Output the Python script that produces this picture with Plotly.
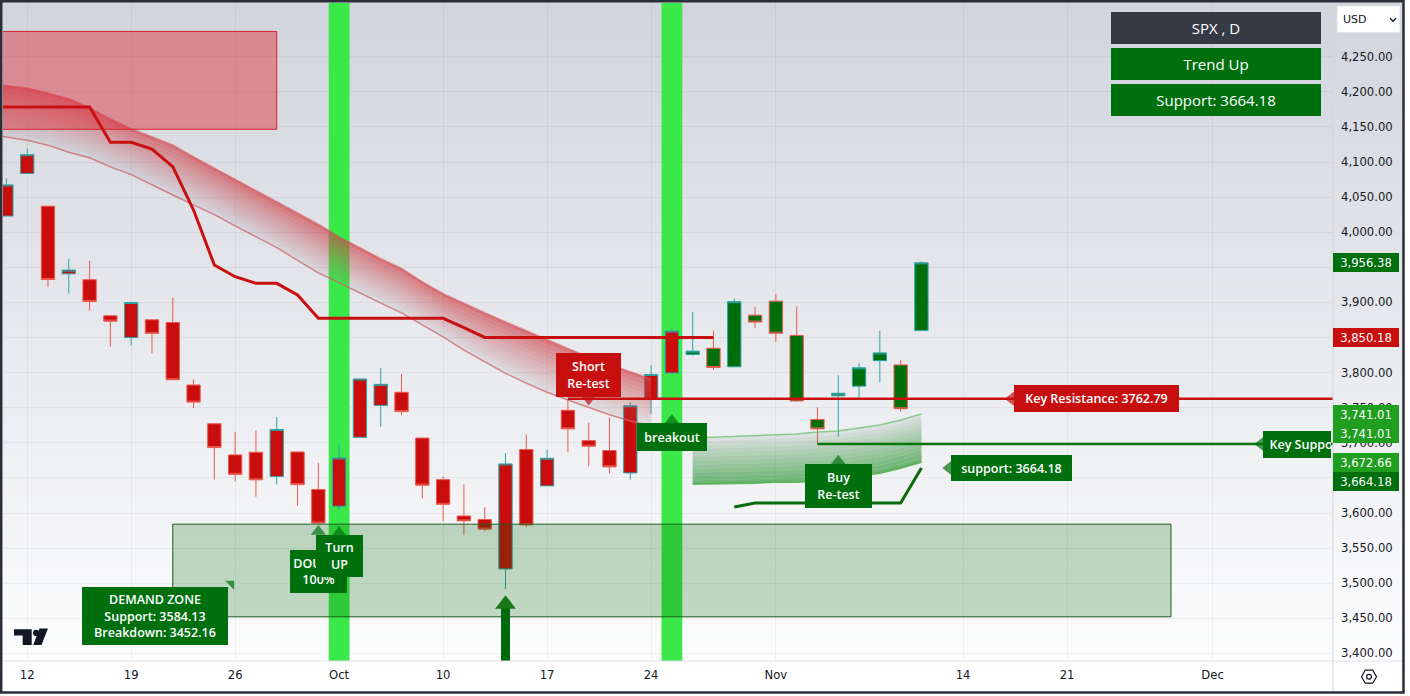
import plotly.graph_objects as go

# ---------------- chart data (SPX daily, bar index 0 = 12 Sep) ----------------
bars = list(range(-1, 44))
opens = [4022.94, 4083.67, 4037.12, 3940.73, 3932.41, 3880.95, 3849.91, 3875.23, 3871.40, 3782.36,
         3727.14, 3682.72, 3686.44, 3651.94, 3687.01, 3633.48, 3609.78, 3707.83, 3753.25, 3771.97,
         3706.74, 3647.51, 3595.86, 3590.83, 3520.37, 3690.41, 3638.65, 3746.26, 3703.11, 3689.05,
         3657.10, 3762.01, 3799.44, 3825.97, 3834.69, 3808.26, 3881.85, 3901.79, 3852.90, 3733.25,
         3766.98, 3780.71, 3817.02, 3810.94, 3859.89]
highs = [4076.81, 4119.28, 4037.12, 3961.94, 3959.14, 3880.95, 3900.45, 3876.01, 3907.07, 3790.28,
         3727.14, 3715.67, 3717.53, 3736.74, 3687.01, 3671.44, 3698.35, 3791.92, 3806.91, 3797.93,
         3706.74, 3652.17, 3640.66, 3608.34, 3685.41, 3712.00, 3689.73, 3762.79, 3728.58, 3736.00,
         3757.89, 3810.74, 3862.85, 3886.15, 3859.95, 3905.42, 3893.73, 3911.79, 3894.44, 3750.59,
         3796.34, 3813.95, 3859.40, 3818.20, 3958.33]
lows = [4022.94, 4083.67, 3921.73, 3912.41, 3888.28, 3837.08, 3838.50, 3827.54, 3789.49, 3749.45,
        3647.47, 3644.76, 3623.29, 3640.61, 3610.40, 3584.13, 3604.93, 3707.83, 3722.66, 3739.22,
        3620.73, 3588.10, 3568.45, 3573.86, 3491.58, 3579.68, 3638.65, 3686.53, 3666.51, 3656.44,
        3647.42, 3741.65, 3799.44, 3824.07, 3803.79, 3808.26, 3863.18, 3843.80, 3758.68, 3698.15,
        3708.84, 3764.70, 3786.28, 3744.22, 3859.89]
closes = [4067.36, 4110.41, 3932.69, 3946.01, 3901.35, 3873.33, 3899.89, 3855.93, 3789.93, 3757.99,
          3693.23, 3655.04, 3647.29, 3719.04, 3640.47, 3585.62, 3678.43, 3790.93, 3783.28, 3744.52,
          3639.66, 3612.39, 3588.84, 3577.03, 3669.91, 3583.07, 3677.95, 3719.98, 3695.16, 3665.78,
          3752.75, 3797.34, 3859.11, 3830.60, 3807.30, 3901.06, 3871.98, 3856.10, 3759.69, 3719.89,
          3770.55, 3806.80, 3828.11, 3748.57, 3956.38]
trend_flip_bar = 32

x_tick_bars = [0, 5, 10, 15, 20, 25, 30, 36, 45, 50, 57]
x_tick_labels = ["12", "19", "26", "Oct", "10", "17", "24", "Nov", "14", "21", "Dec"]
y_tick_values = list(range(3400, 4251, 50))

signal_bars = [15, 31]
arrow_bars = [23]

red_band_bars = list(range(-2, 31))
red_band_upper = [4212, 4208, 4205, 4198, 4190, 4177, 4161, 4147, 4135, 4124, 4107, 4091, 4074, 4058, 4042,
                  4027, 4011, 3993, 3977, 3962, 3948, 3929, 3912, 3898, 3885, 3872, 3859, 3846, 3834,
                  3822, 3811, 3801, 3791]
red_band_lower = [4140, 4136, 4131, 4124, 4114, 4106, 4093, 4082, 4067, 4053, 4039, 4025, 4009, 3993, 3978,
                  3960, 3942, 3928, 3913, 3899, 3885, 3868, 3851, 3832, 3815, 3799, 3785, 3772, 3761,
                  3750, 3740, 3731, 3724]

green_band_bars = list(range(32, 44))
green_band_upper = [3707.0, 3708.0, 3708.5, 3709.6, 3711.0, 3712.4, 3715.3, 3716.7, 3721.0, 3725.3, 3732.4, 3741.01]
green_band_lower = [3641.3, 3641.5, 3642.7, 3642.9, 3644.1, 3644.3, 3645.6, 3648.4, 3652.7, 3657.0, 3664.1, 3672.66]

step_bars = list(range(-2, 34))
step_values = [4178.3, 4178.3, 4178.3, 4178.3, 4178.3, 4178.3, 4128.1, 4128.1, 4118.5, 4093.3, 4031.6,
               3953.2, 3936.6, 3927.2, 3927.2, 3910.5, 3877.4, 3877.4, 3877.4, 3877.4, 3877.4, 3877.4,
               3877.4, 3864.2, 3850.18, 3850.18, 3850.18, 3850.18, 3850.18, 3850.18, 3850.18, 3850.18,
               3850.18, 3850.18, 3850.18, 3850.18]

support_bars = list(range(34, 44))
support_values = [3608.6, 3614.3, 3614.3, 3614.3, 3614.3, 3614.3, 3614.3, 3614.3, 3614.3, 3664.18]

key_resistance_price = 3762.79
key_resistance_from = 26
key_support_price = 3698.15
key_support_from = 38

demand_zone_bars = [7, 55]
demand_zone_prices = [3452.16, 3584.13]
supply_zone_bars = [-2, 12]
supply_zone_prices = [4146.6, 4286.0]

label_texts = ["Short<br>Re-test", "breakout", "Buy<br>Re-test", "support: 3664.18",
               "Key Resistance: 3762.79", "&nbsp;&nbsp;Key Support: 3698.15",
               "DEMAND ZONE<br>Support: 3584.13<br>Breakdown: 3452.16", "DOUBLE<br>100%", "Turn<br>UP"]
label_bars = [27, 31, 39, 44, 47, 59, 10, 14, 15]
label_prices = [3753, 3741, 3683, 3664.18, 3762.79, 3698.15, 3505, 3583, 3581]
label_kinds = ["down", "up", "up", "left", "left", "left", "lowerleft", "up", "up"]
label_tones = ["red", "green", "green", "green", "red", "green", "green", "green", "green"]

axis_label_values = [3956.38, 3850.18, 3741.01, 3741.01, 3672.66, 3664.18]
axis_label_tones = ["dark", "red", "bright", "bright", "bright", "dark"]

table_rows = ["SPX , D", "Trend Up", "Support: 3664.18"]
table_tones = ["slate", "green", "green"]

# ---------------- geometry / style ----------------
W, H = 1410, 696
L, R, T, B = 3, 77, 3, 35
X0, X1 = -1.163, 62.79
Y0, Y1 = 3389.2, 4326.5
PW, PH = W - L - R, H - T - B
ppx = PW / (X1 - X0)
ppp = PH / (Y1 - Y0)

RED = "#c80f0f"
GREEN = "#00700e"
TONE = {"red": RED, "green": GREEN, "dark": "#00700e", "bright": "#1f9e1f", "slate": "#363a45"}
RED_BODY = "#c90c0c"
GREEN_BODY = "#006f0b"
INC_LINE = "#2aa5a8"
DEC_LINE = "#ea5a4e"
GRID = "rgba(42,46,57,0.06)"
TXT = "#131722"


def pxx(px):
    return (px - L) / PW


def pxy(py):
    return (H - B - py) / PH


def ppath(points, close=True):
    s = "M " + " L ".join(f"{pxx(a):.5f},{pxy(b):.5f}" for a, b in points)
    return s + (" Z" if close else "")


fig = go.Figure()

# signal columns
fig.add_trace(go.Bar(x=signal_bars, y=[Y1 - Y0 for _ in signal_bars], base=[Y0 for _ in signal_bars],
                     width=1.0, marker=dict(color="#3be84a", line=dict(width=0)), hoverinfo="skip"))


def gradient_band(xs, top, bot, rgb, a_top, a_bot, n=10, gamma=1.0):
    fig.add_trace(go.Scatter(x=xs, y=top, mode="lines", line=dict(width=0), hoverinfo="skip"))
    fig.add_trace(go.Scatter(x=xs, y=bot, mode="lines", line=dict(width=0), fill="tonexty",
                             fillcolor="rgba(140,140,150,0.12)", hoverinfo="skip"))
    for k in range(n):
        f0, f1 = k / n, (k + 1) / n
        ya = [t + (b - t) * f0 for t, b in zip(top, bot)]
        yb = [t + (b - t) * f1 for t, b in zip(top, bot)]
        fm = ((k + 0.5) / n) ** gamma
        a = a_top + (a_bot - a_top) * fm
        fig.add_trace(go.Scatter(x=xs, y=ya, mode="lines", line=dict(width=0), hoverinfo="skip"))
        fig.add_trace(go.Scatter(x=xs, y=yb, mode="lines", line=dict(width=0), fill="tonexty",
                                 fillcolor=f"rgba({rgb},{a:.3f})", hoverinfo="skip"))


gradient_band(red_band_bars, red_band_upper, red_band_lower, "214,62,68", 0.68, 0.0, n=12, gamma=0.8)
fig.add_trace(go.Scatter(x=red_band_bars, y=red_band_upper, mode="lines",
                         line=dict(color="rgba(214,80,86,0.55)", width=2), hoverinfo="skip"))
fig.add_trace(go.Scatter(x=red_band_bars, y=red_band_lower, mode="lines",
                         line=dict(color="rgba(205,100,104,0.75)", width=1.5), hoverinfo="skip"))

gradient_band(green_band_bars, green_band_upper, green_band_lower, "60,160,68", 0.0, 0.72, n=12, gamma=0.9)
fig.add_trace(go.Scatter(x=green_band_bars, y=green_band_upper, mode="lines",
                         line=dict(color="rgba(120,200,120,0.85)", width=1.5), hoverinfo="skip"))
fig.add_trace(go.Scatter(x=green_band_bars, y=green_band_lower, mode="lines",
                         line=dict(color="rgba(80,175,80,0.85)", width=2), hoverinfo="skip"))


def zone(bx, pr, fill, line):
    fig.add_trace(go.Scatter(x=[bx[0], bx[1], bx[1], bx[0], bx[0]], y=[pr[0], pr[0], pr[1], pr[1], pr[0]],
                             mode="lines", fill="toself", fillcolor=fill, line=dict(color=line, width=1),
                             hoverinfo="skip"))


zone(supply_zone_bars, supply_zone_prices, "rgba(222,52,64,0.48)", "#d8202a")
zone(demand_zone_bars, demand_zone_prices, "rgba(0,100,0,0.23)", "#1b5e20")

# lines
fig.add_trace(go.Scatter(x=step_bars, y=step_values, mode="lines", line=dict(color="#c81010", width=3),
                         hoverinfo="skip"))
fig.add_trace(go.Scatter(x=support_bars, y=support_values, mode="lines", line=dict(color="#0b6b0b", width=3),
                         hoverinfo="skip"))
fig.add_trace(go.Scatter(x=[key_resistance_from, X1 + 1], y=[key_resistance_price, key_resistance_price],
                         mode="lines", line=dict(color="#c81010", width=2.5), hoverinfo="skip"))
fig.add_trace(go.Scatter(x=[key_support_from, X1 + 1], y=[key_support_price, key_support_price],
                         mode="lines", line=dict(color="#0d760d", width=2.5), hoverinfo="skip"))

# candles
bear = [k for k, b in enumerate(bars) if b < trend_flip_bar]
bull = [k for k, b in enumerate(bars) if b >= trend_flip_bar]


def sub(a, idx):
    return [a[k] for k in idx]


for idx, body in ((bear, RED_BODY), (bull, GREEN_BODY)):
    fig.add_trace(go.Candlestick(
        x=sub(bars, idx), open=sub(opens, idx), high=sub(highs, idx), low=sub(lows, idx), close=sub(closes, idx),
        increasing=dict(line=dict(color=INC_LINE, width=1), fillcolor=body),
        decreasing=dict(line=dict(color=DEC_LINE, width=1), fillcolor=body),
        whiskerwidth=0, hoverinfo="skip", showlegend=False))

# buy arrow under the bar
for b in arrow_bars:
    low = lows[bars.index(b)]
    tip = low - 6 / ppp
    head_c = tip - 9 / ppp
    fig.add_trace(go.Scatter(x=[b, b], y=[Y0 - 5, head_c], mode="lines", line=dict(color="#006a0a", width=9),
                             hoverinfo="skip"))
    fig.add_trace(go.Scatter(x=[b], y=[head_c], mode="markers",
                             marker=dict(symbol="triangle-up", size=18, color="#1a781a"), hoverinfo="skip"))

# label tails
r = 6.5
tx, ty, ts, tc, tsz = [], [], [], [], []
for b, p, kind, tone in zip(label_bars, label_prices, label_kinds, label_tones):
    col = TONE[tone]
    if kind == "up":
        tx.append(b); ty.append(p - r / ppp); ts.append("triangle-up"); tsz.append(13)
    elif kind == "down":
        tx.append(b); ty.append(p + r / ppp); ts.append("triangle-down"); tsz.append(13)
    elif kind == "left":
        tx.append(b + r / ppx); ty.append(p); ts.append("triangle-left"); tsz.append(13)
    else:
        tx.append(b - 4 / ppx); ty.append(p - 4 / ppp); ts.append("triangle-ne"); tsz.append(10)
    tc.append(col)
fig.add_trace(go.Scatter(x=tx, y=ty, mode="markers", marker=dict(symbol=ts, size=tsz, color=tc, line=dict(width=0)),
                         hoverinfo="skip"))

# ---------------- annotations ----------------
ann = []
box_style = [(65, 44, 0), (70, 28, 0), (67, 44, 0), (121, 26, 0), (165, 27, 0), (68, 27, 0),
             (146, 58, 0), (57, 43, 16), (47, 42, 0)]
lab_font = dict(family="Open Sans", size=12.5, color="white", weight=600)
for text, b, p, kind, tone, (bw, bh, gap) in zip(label_texts, label_bars, label_prices, label_kinds,
                                                 label_tones, box_style):
    a = dict(x=b, y=p, xref="x", yref="y", text=text, showarrow=False, font=lab_font, bgcolor=TONE[tone],
             width=bw, height=bh, borderpad=0, borderwidth=0, align="center")
    if kind == "up":
        a.update(xanchor="center", yanchor="top", yshift=-(9 + gap))
    elif kind == "down":
        a.update(xanchor="center", yanchor="bottom", yshift=9)
    elif kind == "left":
        a.update(xanchor="left", yanchor="middle", xshift=9)
        if b > 55:
            a.update(align="left")
    else:
        a.update(xanchor="right", yanchor="top", xshift=-7, yshift=-7)
    ann.append(a)

# table top-right
row_y = [12, 48, 84]
for text, tone, y0 in zip(table_rows, table_tones, row_y):
    ann.append(dict(x=pxx(1216), y=pxy(y0 + 16), xref="paper", yref="paper", text=text, showarrow=False,
                    xanchor="center", yanchor="middle", width=210, height=32, borderpad=0, borderwidth=0,
                    bgcolor=TONE[tone], font=dict(family="Open Sans", size=15, color="white")))

# price-axis value labels (stacked so they do not overlap)
order = sorted(range(len(axis_label_values)), key=lambda k: -axis_label_values[k])
prev = None
shift = {}
for k in order:
    base = (Y1 - axis_label_values[k]) * ppp
    pos = base if prev is None or base >= prev + 19 else prev + 19
    shift[k] = pos - base
    prev = pos
for k, (v, tone) in enumerate(zip(axis_label_values, axis_label_tones)):
    ann.append(dict(x=1, y=v, xref="paper", yref="y", text=f"{v:,.2f}", showarrow=False, xanchor="left",
                    yanchor="middle", yshift=-shift[k], width=66, height=19, borderpad=0, borderwidth=0,
                    bgcolor=TONE[tone], align="center",
                    font=dict(family="DejaVu Sans", size=11.6, color="white")))

# currency selector text
ann.append(dict(x=pxx(1341), y=pxy(19.5), xref="paper", yref="paper", text="USD", showarrow=False,
                xanchor="left", yanchor="middle", font=dict(family="DejaVu Sans", size=11, color=TXT)))

# ---------------- decorative shapes ----------------
shapes = []
N = 70
top_rgb, bot_rgb = (209, 212, 220), (255, 255, 255)
for k in range(N):
    y0p = 692 * k / N
    y1p = 692 * (k + 1) / N
    f = (k + 0.5) / N
    c = tuple(int(round(top_rgb[j] + (bot_rgb[j] - top_rgb[j]) * f)) for j in range(3))
    shapes.append(dict(type="rect", xref="paper", yref="paper", x0=pxx(0), x1=pxx(1404), y0=pxy(y1p + 0.5),
                       y1=pxy(y0p), fillcolor=f"rgb{c}", line=dict(width=0), layer="below"))
# panel dividers
shapes.append(dict(type="line", xref="paper", yref="paper", x0=pxx(1333), x1=pxx(1333), y0=pxy(691), y1=pxy(1),
                   line=dict(color="#d3d6dd", width=1)))
shapes.append(dict(type="line", xref="paper", yref="paper", x0=pxx(1), x1=pxx(1403), y0=pxy(661), y1=pxy(661),
                   line=dict(color="#dfe2e8", width=1)))
# outer frame
shapes.append(dict(type="rect", xref="paper", yref="paper", x0=pxx(1.2), x1=pxx(1403.5), y0=pxy(692.5), y1=pxy(1.2),
                   line=dict(color="#2a2e39", width=2.5), fillcolor="rgba(0,0,0,0)"))
# currency selector box + chevron
shapes.append(dict(type="rect", xref="paper", yref="paper", x0=pxx(1337), x1=pxx(1400), y0=pxy(32.5), y1=pxy(6),
                   line=dict(color="#e0e3eb", width=1), fillcolor="white"))
shapes.append(dict(type="path", xref="paper", yref="paper",
                   path=ppath([(1390, 18.3), (1393, 21.3), (1396, 18.3)], close=False),
                   line=dict(color=TXT, width=1.3)))
# TradingView logo
shapes.append(dict(type="path", xref="paper", yref="paper",
                   path=ppath([(14, 629.3), (31.7, 629.3), (31.7, 645), (22.7, 645), (22.7, 635.5), (14, 635.5)]),
                   fillcolor=TXT, line=dict(width=0)))
shapes.append(dict(type="path", xref="paper", yref="paper",
                   path=ppath([(39.5, 628.5), (48, 628.5), (41.5, 645), (33.2, 645)]),
                   fillcolor=TXT, line=dict(width=0)))
shapes.append(dict(type="circle", xref="paper", yref="paper", x0=pxx(33), x1=pxx(39.2), y0=pxy(636), y1=pxy(629.8),
                   fillcolor=TXT, line=dict(width=0)))
# settings icon
cx, cy = 1369, 676.7
shapes.append(dict(type="path", xref="paper", yref="paper",
                   path=ppath([(cx - 7.5, cy), (cx - 3.75, cy - 6.5), (cx + 3.75, cy - 6.5), (cx + 7.5, cy),
                               (cx + 3.75, cy + 6.5), (cx - 3.75, cy + 6.5)]),
                   line=dict(color=TXT, width=1.2), fillcolor="rgba(0,0,0,0)"))
shapes.append(dict(type="circle", xref="paper", yref="paper", x0=pxx(cx - 2.4), x1=pxx(cx + 2.4),
                   y0=pxy(cy + 2.4), y1=pxy(cy - 2.4), line=dict(color=TXT, width=1.2)))

tick_font = dict(family="DejaVu Sans", size=11.6, color=TXT)
fig.update_layout(
    width=W, height=H, margin=dict(l=L, r=R, t=T, b=B, pad=0),
    paper_bgcolor="white", plot_bgcolor="rgba(0,0,0,0)",
    showlegend=False, hovermode=False, boxgap=0.36, boxgroupgap=0,
    xaxis=dict(range=[X0, X1], tickmode="array", tickvals=x_tick_bars, ticktext=x_tick_labels,
               showgrid=True, gridcolor=GRID, zeroline=False, showline=False, ticks="",
               tickfont=tick_font, rangeslider=dict(visible=False), fixedrange=True, ticklabelstandoff=5),
    yaxis=dict(side="right", range=[Y0, Y1], tickmode="array", tickvals=y_tick_values, tickformat=",.2f",
               showgrid=True, gridcolor=GRID, zeroline=False, showline=False, ticks="",
               tickfont=tick_font, fixedrange=True, ticklabelstandoff=7),
    annotations=ann, shapes=shapes,
)

fig.write_html("out.html", config={"displayModeBar": False},
               post_script="document.body.style.margin='0px';document.documentElement.style.overflow='hidden';")
